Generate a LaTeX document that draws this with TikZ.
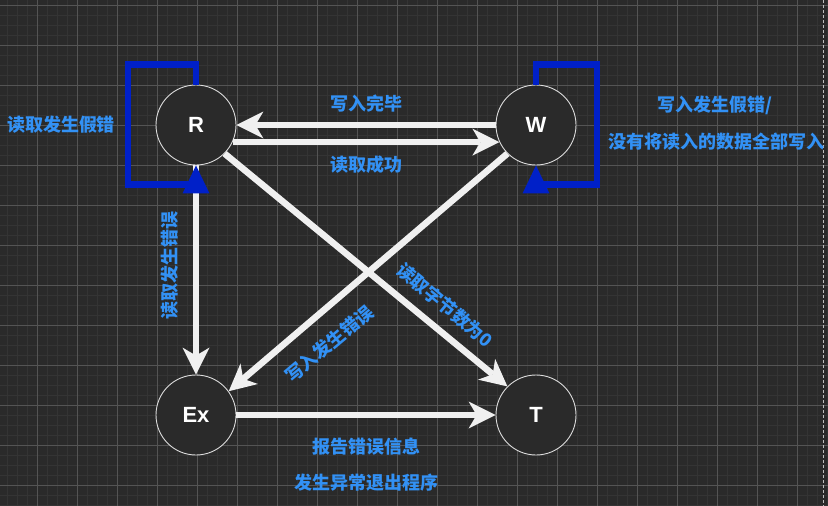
\documentclass[tikz,border=0pt]{standalone}
\usepackage{fontspec}
\setmainfont{Liberation Sans}
\newfontfamily\cjk{Noto Sans CJK SC}
\usepackage{tikz}
\usetikzlibrary{arrows.meta}
\definecolor{canvas}{RGB}{42,42,42}
\definecolor{minorgrid}{RGB}{52,52,52}
\definecolor{majorgrid}{RGB}{84,84,84}
\definecolor{statering}{RGB}{220,220,220}
\definecolor{flowwhite}{RGB}{240,240,240}
\definecolor{loopblue}{RGB}{0,32,200}
\definecolor{lblblue}{RGB}{50,145,245}
\tikzset{
    minorline/.style={draw=minorgrid, line width=0.8pt},
    majorline/.style={draw=majorgrid, line width=0.8pt},
    pageedge/.style={draw=white!75!black, line width=0.8pt, dash pattern=on 3pt off 2pt},
    state/.style={circle, draw=statering, fill=canvas, line width=0.9pt,
        minimum size=80pt, inner sep=0pt, text=white,
        font=\fontsize{22}{24}\selectfont\bfseries},
    flow/.style={draw=flowwhite, line width=6.5pt,
        -{Stealth[length=27pt, width=27pt, inset=8pt, line width=0pt]}},
    selfloop/.style={draw=loopblue, line width=6.5pt,
        -{Triangle[length=28pt, width=27pt, line width=0pt]}},
    lbl/.style={text=lblblue, inner sep=0pt,
        font=\fontsize{18}{20}\cjk\bfseries},
}

\begin{document}
\begin{tikzpicture}[x=1pt,y=-1pt]
\useasboundingbox (0,0) rectangle (828,506);
\fill[canvas] (0,0) rectangle (828,506);
\foreach \gx in {7,17,...,827} \draw[minorline] (\gx,0) -- (\gx,506);
\foreach \gy in {5,15,...,505} \draw[minorline] (0,\gy) -- (828,\gy);
\foreach \gx in {37,77,...,797} \draw[majorline] (\gx,0) -- (\gx,506);
\foreach \gy in {5,45,...,485} \draw[majorline] (0,\gy) -- (828,\gy);
\draw[pageedge] (823,0) -- (823,506);

\node[state] (R) at (196,125) {R};
\node[state] (W) at (536,125) {W};
\node[state] (Ex) at (196,415) {Ex};
\node[state] (T) at (536,415) {T};

\draw[flow] (W.west) -- (R.east);
\draw[flow] (R.-25) -- (W.-155);
\draw[flow] (R.south) -- (Ex.north);
\draw[flow] (R.-45) -- (T.135);
\draw[flow] (W.-135) -- (Ex.36);
\draw[flow] (Ex.east) -- (T.west);
\draw[selfloop] (R.north) -- ++(0,-20) -- ++(-68,0) -- ++(0,120) -| (R.south);
\draw[selfloop] (W.north) -- ++(0,-20) -- ++(61,0) -- ++(0,120) -| (W.south);

\node[lbl] (readfake) at (61,125) {读取发生假错};
\node[lbl] (writedone) at (366,104) {写入完毕};
\node[lbl] (readok) at (366,165) {读取成功};
\node[lbl] (writefake) at (715,105) {写入发生假错/};
\node[lbl] (writepart) at (716,142) {没有将读入的数据全部写入};
\node[lbl, rotate=90] (readerr) at (170,265) {读取发生错误};
\node[lbl, rotate=40] (writeerr) at (329,344) {写入发生错误};
\node[lbl, rotate=-40] (readzero) at (445,305) {读取字节数为0};
\node[lbl] (reporterr) at (366,447) {报告错误信息};
\node[lbl] (exitprog) at (366,483) {发生异常退出程序};
\end{tikzpicture}
\end{document}
